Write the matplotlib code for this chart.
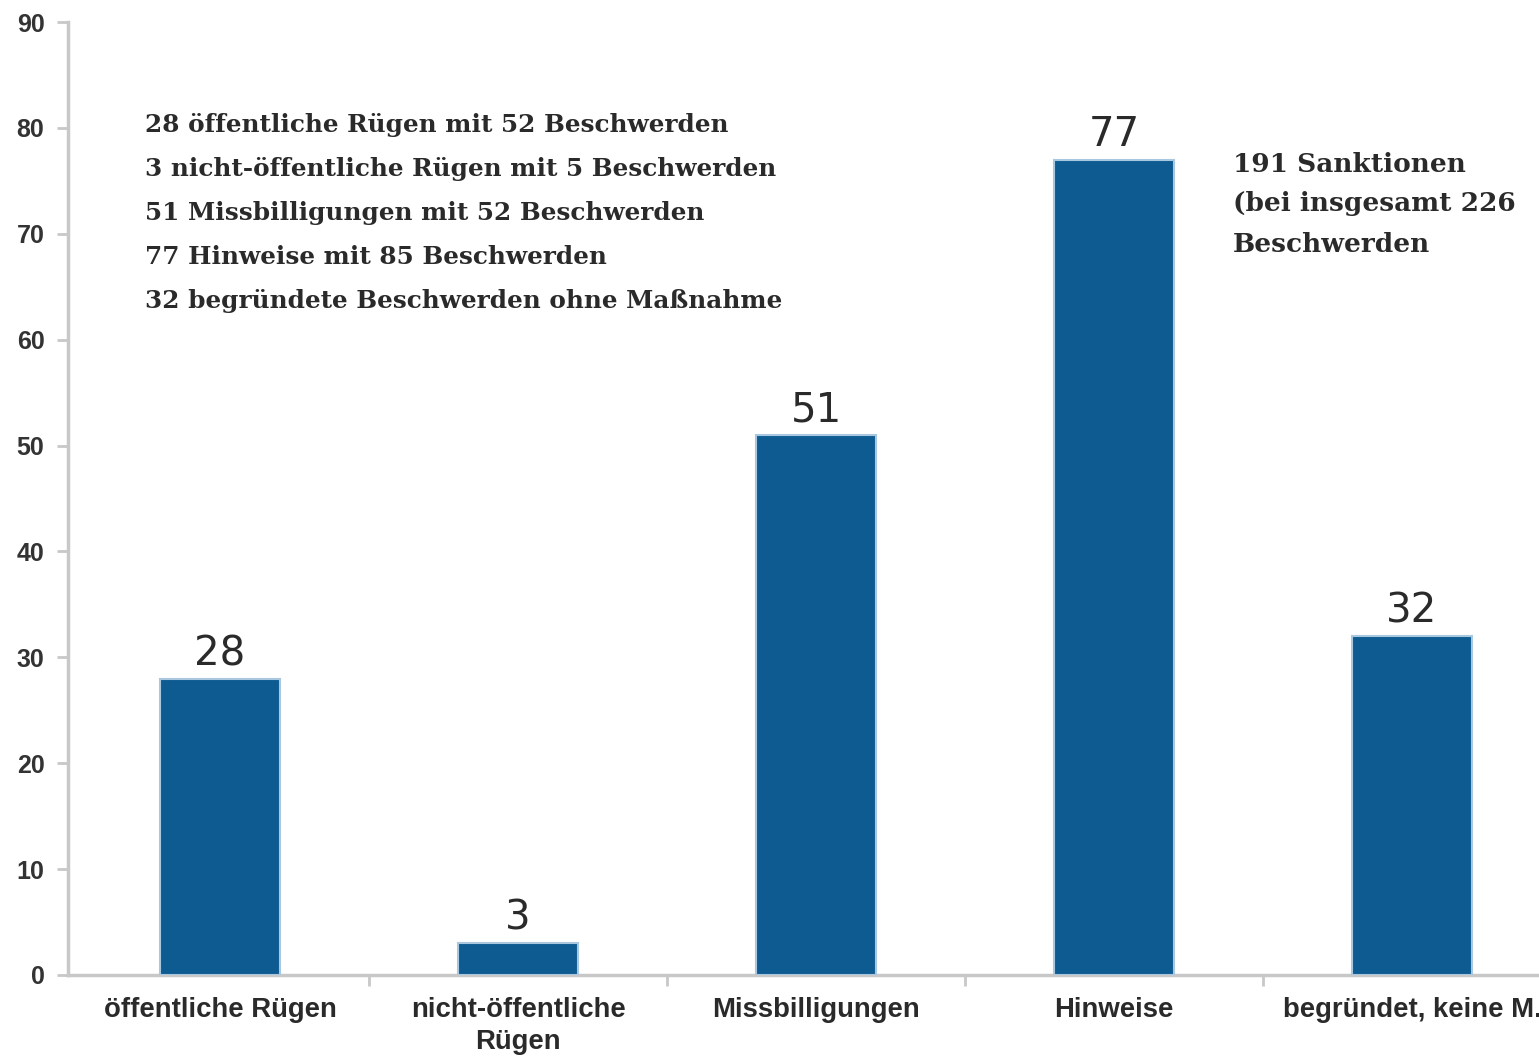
import matplotlib
matplotlib.use("Agg")
import matplotlib.pyplot as plt
import numpy as np

categories = ["öffentliche Rügen", "nicht-öffentliche\nRügen", "Missbilligungen", "Hinweise", "begründet, keine M."]
values = [28, 3, 51, 77, 32]
y_ticks = [0, 10, 20, 30, 40, 50, 60, 70, 80, 90]
summary_lines = [
    "28 öffentliche Rügen mit 52 Beschwerden",
    "3 nicht-öffentliche Rügen mit 5 Beschwerden",
    "51 Missbilligungen mit 52 Beschwerden",
    "77 Hinweise mit 85 Beschwerden",
    "32 begründete Beschwerden ohne Maßnahme",
]
side_note = ["191 Sanktionen", "(bei insgesamt 226", "Beschwerden"]

W, H = 1539, 1056
fig = plt.figure(figsize=(W / 100, H / 100), dpi=100)
ax_left, ax_right, ax_bottom, ax_top = 68, 1539, 975, 22
ax = fig.add_axes([ax_left / W, 1 - ax_bottom / H, (ax_right - ax_left) / W, (ax_bottom - ax_top) / H])

x = np.arange(len(categories))
bar_color = "#0e5b91"
ax.bar(x, values, width=0.405, color=bar_color, edgecolor="#a9c8e0", linewidth=1.5, zorder=3)

ax.set_xlim(-0.51, 4.426)
ax.set_ylim(0, 90)
ax.set_yticks(y_ticks)
ax.set_yticklabels([str(t) for t in y_ticks], fontsize=18, color="#333333",
                   family=["Liberation Sans", "DejaVu Sans"], fontweight="bold")

ax.set_xticks(x)
ax.set_xticklabels(categories, fontsize=19.8, color="#2a2a2a",
                   family=["Liberation Sans", "DejaVu Sans"], fontweight="bold", linespacing=1.3)
ax.set_xticks(np.arange(0.5, 4.0, 1.0), minor=True)
ax.tick_params(axis="x", which="major", length=0, pad=16)
ax.tick_params(axis="x", which="minor", length=8, width=2, color="#c8c8c8", direction="out")
ax.tick_params(axis="y", which="major", length=8, width=2, color="#c8c8c8", direction="out", pad=9)

for s in ["top", "right"]:
    ax.spines[s].set_visible(False)
for s in ["left", "bottom"]:
    ax.spines[s].set_color("#c8c8c8")
    ax.spines[s].set_linewidth(2.5)

for xi, v in zip(x, values):
    ax.text(xi, v + 0.4, str(v), ha="center", va="bottom", fontsize=29,
            color="#2a2a2a", family="DejaVu Sans")

serif = ["DejaVu Serif"]
for i, line in enumerate(summary_lines):
    fig.text(145 / W, 1 - (125 + 44 * i) / H, line, ha="left", va="center",
             fontsize=17.8, color="#2a2a2a", family=serif, fontweight="bold")

for i, line in enumerate(side_note):
    fig.text(1233 / W, 1 - (164 + 40 * i) / H, line, ha="left", va="center",
             fontsize=19, color="#2a2a2a", family=serif, fontweight="bold")

fig.savefig("out.png", dpi=100)
